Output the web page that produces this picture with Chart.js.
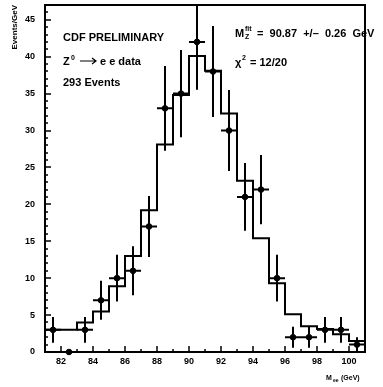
<!DOCTYPE html>
<html>
<head>
    <title>CDF Z mass</title>
    <script src="https://cdn.jsdelivr.net/npm/chart.js"></script>
    <style>
        body { margin: 0; background: #fff; }
    </style>
</head>
<body>
    <canvas id="massChart" width="383" height="387"></canvas>
    <script type="text/javascript">
        // fit histogram, 1 GeV bins starting at these edges
        const binEdges = [81, 82, 83, 84, 85, 86, 87, 88, 89, 90, 91, 92, 93, 94, 95, 96, 97, 98, 99, 100, 101];
        const fitValues = [3.0, 3.0, 4.0, 5.5, 8.9, 13.0, 19.2, 28.1, 34.8, 40.1, 38.1, 32.3, 23.2, 15.4, 9.3, 5.1, 3.5, 3.1, 2.4, 1.5];
        // data points at bin centres
        const massCenters = [81.5, 82.5, 83.5, 84.5, 85.5, 86.5, 87.5, 88.5, 89.5, 90.5, 91.5, 92.5, 93.5, 94.5, 95.5, 96.5, 97.5, 98.5, 99.5, 100.5];
        const eventCounts = [3, 0, 3, 7, 10, 11, 17, 33, 35, 42, 38, 30, 21, 22, 10, 2, 2, 3, 3, 1];
        const xTicks = [82, 84, 86, 88, 90, 92, 94, 96, 98, 100];
        const yTicks = [0, 5, 10, 15, 20, 25, 30, 35, 40, 45];

        var fitPoints = [];
        for (var i = 0; i < binEdges.length; i++) {
            fitPoints.push({x: binEdges[i], y: fitValues[Math.min(i, fitValues.length - 1)]});
        }
        var dataPoints = massCenters.map(function(m, i) { return {x: m, y: eventCounts[i]}; });

        const labelFont = {family: 'Liberation Sans', size: 9, weight: 'bold'};
        const textFont = 'bold 11px "Liberation Sans"';
        const smallFont = 'bold 7px "Liberation Sans"';

        // error bars, inward ticks, frame and text
        const decorPlugin = {
            id: 'decor',
            afterDatasetsDraw: function(chart) {
                var ctx = chart.ctx, xs = chart.scales.x, ys = chart.scales.y;
                ctx.save();
                ctx.strokeStyle = '#000';
                ctx.lineWidth = 2;
                massCenters.forEach(function(m, i) {
                    var n = eventCounts[i];
                    if (n <= 0) return;
                    var err = Math.sqrt(n);
                    var px = xs.getPixelForValue(m), py = ys.getPixelForValue(n);
                    ctx.beginPath();
                    ctx.moveTo(xs.getPixelForValue(m - 0.5), py);
                    ctx.lineTo(xs.getPixelForValue(m + 0.5), py);
                    ctx.moveTo(px, ys.getPixelForValue(Math.min(n + err, ys.max)));
                    ctx.lineTo(px, ys.getPixelForValue(n - err));
                    ctx.stroke();
                });
                ctx.restore();
            },
            afterDraw: function(chart) {
                var ctx = chart.ctx, a = chart.chartArea, xs = chart.scales.x, ys = chart.scales.y;
                ctx.save();
                ctx.strokeStyle = '#000';
                ctx.lineWidth = 2;
                ctx.strokeRect(a.left, a.top, a.right - a.left, a.bottom - a.top);
                ctx.lineWidth = 1.5;
                ctx.beginPath();
                for (var v = 0; v <= 46; v++) {
                    var y = Math.round(ys.getPixelForValue(v));
                    var len = (v % 5 === 0) ? 6 : 3;
                    ctx.moveTo(a.left, y);
                    ctx.lineTo(a.left + len, y);
                }
                for (var m = 81; m <= 101; m++) {
                    var x = Math.round(xs.getPixelForValue(m));
                    var l = (m % 2 === 0) ? 6 : 3;
                    ctx.moveTo(x, a.bottom);
                    ctx.lineTo(x, a.bottom - l);
                }
                ctx.stroke();

                ctx.fillStyle = '#000';
                ctx.textBaseline = 'alphabetic';
                ctx.font = textFont;
                ctx.fillText('CDF PRELIMINARY', 63, 41);
                ctx.fillText('Z', 63, 65);
                ctx.font = smallFont;
                ctx.fillText('0', 71, 60);
                // arrow
                ctx.lineWidth = 1.2;
                ctx.beginPath();
                ctx.moveTo(80, 61);
                ctx.lineTo(96, 61);
                ctx.moveTo(92, 58);
                ctx.lineTo(96, 61);
                ctx.lineTo(92, 64);
                ctx.stroke();
                ctx.font = textFont;
                ctx.fillText('e e data', 100, 65);
                ctx.fillText('293 Events', 63, 86);

                ctx.fillText('M', 235, 37);
                ctx.font = smallFont;
                ctx.fillText('Z', 245, 39);
                ctx.fillText('fit', 245, 31);
                ctx.font = textFont;
                ctx.fillText('=  90.87  +/\u2013  0.26  GeV', 257, 37);
                ctx.fillText('\u03c7', 235, 66);
                ctx.font = smallFont;
                ctx.fillText('2', 242, 60);
                ctx.font = textFont;
                ctx.fillText('= 12/20', 250, 66);

                ctx.font = 'bold 7px "Liberation Sans"';
                ctx.fillText('M', 326, 380);
                ctx.font = 'bold 5px "Liberation Sans"';
                ctx.fillText('ee', 333, 382);
                ctx.font = 'bold 7px "Liberation Sans"';
                ctx.fillText('(GeV)', 341, 380);
                ctx.restore();
            }
        };

        var ctx = document.getElementById('massChart').getContext('2d');
        var massChart = new Chart(ctx, {
            data: {
                datasets: [
                    {
                        type: 'line',
                        label: 'Fit',
                        data: fitPoints,
                        stepped: 'before',
                        borderColor: '#000',
                        borderWidth: 2,
                        pointRadius: 0,
                        fill: false,
                    },
                    {
                        type: 'scatter',
                        label: 'Z -> e e data',
                        data: dataPoints,
                        backgroundColor: '#000',
                        borderColor: '#000',
                        pointRadius: 2.8,
                        clip: false,
                    }
                ]
            },
            options: {
                responsive: false,
                animation: false,
                layout: {padding: {top: 5, right: 18, left: 0, bottom: 0}},
                plugins: {
                    legend: {display: false},
                    tooltip: {enabled: false}
                },
                scales: {
                    x: {
                        type: 'linear',
                        min: 81,
                        max: 101,
                        grid: {display: false, drawTicks: false},
                        border: {display: false},
                        afterBuildTicks: function(scale) {
                            scale.ticks = xTicks.map(function(v) { return {value: v}; });
                        },
                        afterFit: function(scale) {
                            scale.height = 35;
                            scale.paddingLeft = 0;
                            scale.paddingRight = 0;
                        },
                        ticks: {color: '#000', font: labelFont, padding: 4, maxRotation: 0}
                    },
                    y: {
                        min: 0,
                        max: 47,
                        grid: {display: false, drawTicks: false},
                        border: {display: false},
                        afterBuildTicks: function(scale) {
                            scale.ticks = yTicks.map(function(v) { return {value: v}; });
                        },
                        afterFit: function(scale) {
                            scale.width = 45;
                            scale.paddingTop = 0;
                            scale.paddingBottom = 0;
                        },
                        ticks: {color: '#000', font: labelFont, padding: 10},
                        title: {
                            display: true,
                            text: 'Events/GeV',
                            align: 'end',
                            color: '#000',
                            font: {family: 'Liberation Sans', size: 8, weight: 'bold'},
                            padding: {top: 10, bottom: 0}
                        }
                    }
                }
            },
            plugins: [decorPlugin]
        });
    </script>
</body>
</html>
